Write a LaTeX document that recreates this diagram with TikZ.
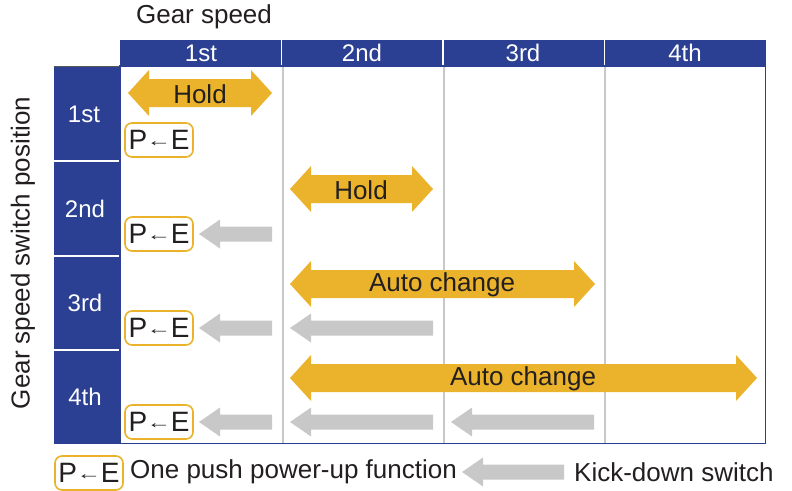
\documentclass[tikz,border=0pt]{standalone}
\usepackage{fontspec}
\setmainfont{Liberation Sans}
\definecolor{hblue}{HTML}{2B3F93}
\definecolor{aorange}{HTML}{EBB32B}
\definecolor{agray}{HTML}{C8C8C8}
\definecolor{txt}{HTML}{231F20}
\newcommand{\dbarrow}[3]{%
  \fill[aorange] (#1,#3) -- (#1+21,#3-23) -- (#1+21,#3-14) -- (#2-21,#3-14) -- (#2-21,#3-23) -- (#2,#3)
  -- (#2-21,#3+23) -- (#2-21,#3+14) -- (#1+21,#3+14) -- (#1+21,#3+23) -- cycle;}
\newcommand{\kdarrow}[3]{%
  \fill[agray] (#1,#3) -- (#1+21,#3-14.5) -- (#1+21,#3-7.5) -- (#2,#3-7.5)
  -- (#2,#3+7.5) -- (#1+21,#3+7.5) -- (#1+21,#3+14.5) -- cycle;}
\newcommand{\petext}{P\kern-0.5pt\raisebox{3.5pt}{\scalebox{1.45}[1]{\fontsize{17}{17}\selectfont ←}}\kern-0.5pt E}
\tikzset{
  lbl/.style={font=\fontsize{26}{30}\selectfont, text=txt, inner sep=0pt},
  hdr/.style={font=\fontsize{24}{28}\selectfont, text=white, inner sep=0pt},
  pe/.style={draw=aorange, line width=1.6pt, rounded corners=7pt, minimum width=68pt, minimum height=34pt,
             inner sep=0pt, font=\fontsize{28}{30}\selectfont, text=txt},
}
\begin{document}
\begin{tikzpicture}[x=1pt,y=-1pt]
\useasboundingbox (0,0) rectangle (792,490);
% header bar
\fill[hblue] (120,40) rectangle (766,66);
\fill[hblue] (54,66) rectangle (120,444);
\draw[gray!70!black, line width=0.8pt] (54,66.5) -- (120,66.5);
\foreach \x in {281.5,443,604.5} \draw[white, line width=1.6pt] (\x,40) -- (\x,66);
\foreach \y in {161,256,350} \draw[white, line width=1.6pt] (54,\y) -- (120,\y);
% body
\foreach \x in {282.5,443.5,604.5} \draw[agray, line width=2pt] (\x,66) -- (\x,443);
\draw[hblue, line width=1.2pt] (120,66) rectangle (765.5,443.5);
% header labels
\node[lbl] (gs) at (204,17) {Gear speed};
\node[lbl, rotate=90] (gsp) at (23,253) {Gear speed switch position};
\node[hdr] (c1) at (201,53) {1st};
\node[hdr] (c2) at (362,53) {2nd};
\node[hdr] (c3) at (523,53) {3rd};
\node[hdr] (c4) at (685,53) {4th};
\node[hdr] (r1) at (84,114) {1st};
\node[hdr] (r2) at (85,209) {2nd};
\node[hdr] (r3) at (85,303) {3rd};
\node[hdr] (r4) at (85,397) {4th};
% orange arrows
\dbarrow{128}{272}{93}
\node[lbl] (h1) at (200,94) {Hold};
\dbarrow{290}{433}{189}
\node[lbl] (h2) at (361,190) {Hold};
\dbarrow{290}{595}{284}
\node[lbl] (a3) at (442,285) {Auto change};
\dbarrow{290}{757}{378}
\node[lbl] (a4) at (523,379) {Auto change};
% P<-E boxes
\node[pe] (p1) at (159,140) {\petext};
\node[pe] (p2) at (159,234) {\petext};
\node[pe] (p3) at (159,328) {\petext};
\node[pe] (p4) at (159,422) {\petext};
% kick-down arrows
\kdarrow{199}{272}{234}
\kdarrow{199}{272}{328}
\kdarrow{290}{433}{328}
\kdarrow{199}{272}{422}
\kdarrow{290}{433}{422}
\kdarrow{451}{594}{422}
% legend
\node[pe] (lp) at (89,473) {\petext};
\node[lbl, anchor=west] (lt) at (130,472) {One push power-up function};
\kdarrow{462}{564}{472}
\node[lbl, anchor=west] (lk) at (574,472) {Kick-down switch};
\end{tikzpicture}
\end{document}
